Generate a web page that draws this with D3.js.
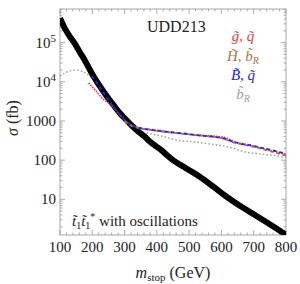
<!DOCTYPE html>
<html>
<head>
<meta charset="utf-8">
<script src="https://cdn.jsdelivr.net/npm/d3@7"></script>
<style>
  body { margin: 0; background: #fff; }
  svg { display: block; }
</style>
</head>
<body>
<div id="chart"></div>
<script>
// stop pair cross section (thick black)
const stopMass = [100, 115, 130, 146, 162, 177, 193, 208, 224, 239, 255, 270, 285, 301, 316, 332, 347, 363, 379, 410, 450, 490, 533, 575, 616, 650, 688, 740, 800];
const stopXsec = [4.2e5, 2.3e5, 1.45e5, 9.4e4, 5.6e4, 3.5e4, 2.0e4, 1.21e4, 7.6e3, 5.0e3, 3.3e3, 2.3e3, 1.6e3, 1160, 860, 645, 500, 393, 293, 190, 100, 62, 37.7, 21, 11.6, 7.5, 4.8, 2.6, 1.25];

// g~, q~ (red)
const gqMass = [190, 210, 234, 255, 270, 285, 300, 320, 340, 379, 430, 483, 540, 580, 610, 640, 690, 750, 800];
const gqXsec = [9e3, 6e3, 3.6e3, 2.7e3, 2.0e3, 1.45e3, 1050, 790, 690, 610, 540, 470, 430, 410, 380, 300, 240, 180, 140];

// H~, b~R (brown)
const hbMass = [300, 320, 340, 379, 430, 483, 540, 600, 640, 690, 750, 800];
const hbXsec = [1000, 760, 670, 590, 520, 470, 420, 365, 280, 230, 170, 130];

// B~, q~ (blue)
const bqMass = [198, 210, 225, 240, 255, 270, 285, 300, 320, 340, 360, 379, 400, 430, 460, 483, 510, 540, 570, 600, 620, 640, 660, 690, 720, 750, 780, 800];
const bqXsec = [1.4e4, 1.05e4, 6.8e3, 4.5e3, 3.0e3, 2.05e3, 1450, 1050, 780, 680, 630, 600, 570, 530, 500, 480, 450, 420, 400, 370, 330, 290, 260, 240, 210, 185, 160, 145];

// b~R (gray)
const bRMass = [100, 120, 150, 175, 195, 210, 225, 240, 255, 270, 285, 300, 320, 340, 360, 380, 410, 440, 462, 520, 566, 600, 638, 669, 720, 760, 800];
const bRXsec = [1.4e4, 1.75e4, 2.0e4, 1.75e4, 1.35e4, 1.05e4, 6.8e3, 4.6e3, 3.1e3, 2.1e3, 1450, 1050, 760, 620, 520, 470, 420, 360, 324, 290, 257, 235, 200, 165, 145, 132, 118];

const xTicks = [100, 200, 300, 400, 500, 600, 700, 800];
const yTicks = [10, 100, 1000, 1e4, 1e5];

const width = 300, height = 284;
const plot = { left: 60, right: 286, top: 9, bottom: 235 };
const FONT = "Liberation Serif";

const svg = d3.select("#chart").append("svg")
    .attr("width", width)
    .attr("height", height);

// all text goes through here so the serif font is set on every element
function addText(parent, px, py, size) {
    return parent.append("text")
        .attr("x", px).attr("y", py)
        .attr("font-family", FONT)
        .attr("font-size", size)
        .attr("fill", "#222");
}

const x = d3.scaleLinear().domain([100, 800]).range([plot.left, plot.right]);
const y = d3.scaleLog().domain([1.23, 7.2e5]).range([plot.bottom, plot.top]);

svg.append("clipPath").attr("id", "clip")
    .append("rect")
    .attr("x", plot.left).attr("y", plot.top)
    .attr("width", plot.right - plot.left).attr("height", plot.bottom - plot.top);

// frame
svg.append("rect")
    .attr("x", plot.left).attr("y", plot.top)
    .attr("width", plot.right - plot.left).attr("height", plot.bottom - plot.top)
    .attr("fill", "none").attr("stroke", "#a8a8a8").attr("stroke-width", 1);

// ticks (inward, all four sides)
const tickG = svg.append("g").attr("stroke", "#999").attr("stroke-width", 0.8);
d3.range(100, 801, 20).forEach(v => {
    const len = v % 100 === 0 ? 5 : 2.5;
    tickG.append("line").attr("x1", x(v)).attr("x2", x(v)).attr("y1", plot.bottom).attr("y2", plot.bottom - len);
    tickG.append("line").attr("x1", x(v)).attr("x2", x(v)).attr("y1", plot.top).attr("y2", plot.top + len);
});
const yMinor = [];
for (let k = 0; k <= 5; k++) {
    for (let m = 1; m <= 9; m++) {
        const v = m * Math.pow(10, k);
        if (v >= 1.23 && v <= 7.2e5) yMinor.push({ v, major: m === 1 });
    }
}
yMinor.forEach(d => {
    const len = d.major ? 5 : 2.5;
    tickG.append("line").attr("y1", y(d.v)).attr("y2", y(d.v)).attr("x1", plot.left).attr("x2", plot.left + len);
    tickG.append("line").attr("y1", y(d.v)).attr("y2", y(d.v)).attr("x1", plot.right).attr("x2", plot.right - len);
});

// tick labels
xTicks.forEach(v => {
    addText(svg, x(v), plot.bottom + 17, 15).attr("text-anchor", "middle").text(v);
});

yTicks.forEach(v => {
    const t = addText(svg, 56, y(v) + 5, 15).attr("text-anchor", "end");
    if (v >= 1e4) {
        t.append("tspan").text("10");
        t.append("tspan").attr("font-size", 11).attr("dy", -6).text(Math.round(Math.log10(v)));
    } else {
        t.text(v);
    }
});

// axis titles
const yt = addText(svg, 0, 0, 16)
    .attr("transform", "translate(18,118) rotate(-90)")
    .attr("text-anchor", "middle");
yt.append("tspan").attr("font-style", "italic").text("σ");
yt.append("tspan").text(" (fb)");

const xt = addText(svg, 173, 278, 16).attr("text-anchor", "middle");
xt.append("tspan").attr("font-style", "italic").text("m");
xt.append("tspan").attr("font-size", 11).attr("dy", 3).text("stop");
xt.append("tspan").attr("dy", -3).text(" (GeV)");

// curves
const line = d3.line()
    .x(d => x(d[0]))
    .y(d => y(d[1]))
    .curve(d3.curveMonotoneX);

const curves = svg.append("g").attr("clip-path", "url(#clip)");

function drawCurve(mass, xsec, color, widthPx, dash, cap) {
    curves.append("path")
        .datum(d3.zip(mass, xsec))
        .attr("d", line)
        .attr("fill", "none")
        .attr("stroke", color)
        .attr("stroke-width", widthPx)
        .attr("stroke-dasharray", dash)
        .attr("stroke-linecap", cap || "butt");
}

drawCurve(bRMass, bRXsec, "#9a9a9a", 1.4, "1.5,2.2", "butt");
drawCurve(stopMass, stopXsec, "#000", 6, null);
drawCurve(gqMass, gqXsec, "#f03c3c", 1.8, "0.1,2.6", "round");
drawCurve(hbMass, hbXsec, "#a8743f", 1.8, "4,2.5");
drawCurve(bqMass, bqXsec, "#2020ff", 1.8, "3.5,3");

// labels
addText(svg, 147, 32, 16).text("UDD213");

const legendItems = [
    { label: ["g\u0303, q\u0303", ""], color: "#f03c3c", y: 41 },
    { label: ["H\u0303, b\u0303", "R"], color: "#a8743f", y: 61 },
    { label: ["B\u0303, q\u0303", ""], color: "#2020ff", y: 80 },
    { label: ["b\u0303", "R"], color: "#a0a0a0", y: 99 }
];
legendItems.forEach(d => {
    const t = addText(svg, 243, d.y, 15)
        .attr("text-anchor", "middle")
        .attr("font-style", "italic")
        .attr("fill", d.color);
    t.append("tspan").text(d.label[0]);
    if (d.label[1]) t.append("tspan").attr("font-size", 10).attr("dy", 3).text(d.label[1]);
});

const note = addText(svg, 72, 226, 15);
note.append("tspan").attr("font-style", "italic").text("t\u0303");
note.append("tspan").attr("font-size", 10).attr("dy", 3).text("1");
note.append("tspan").attr("font-style", "italic").attr("dy", -3).text("t\u0303");
note.append("tspan").attr("font-size", 10).attr("dy", 3).text("1");
note.append("tspan").attr("font-size", 10).attr("dy", -9).text("*");
note.append("tspan").attr("dy", 6).text(" with oscillations");
</script>
</body>
</html>
